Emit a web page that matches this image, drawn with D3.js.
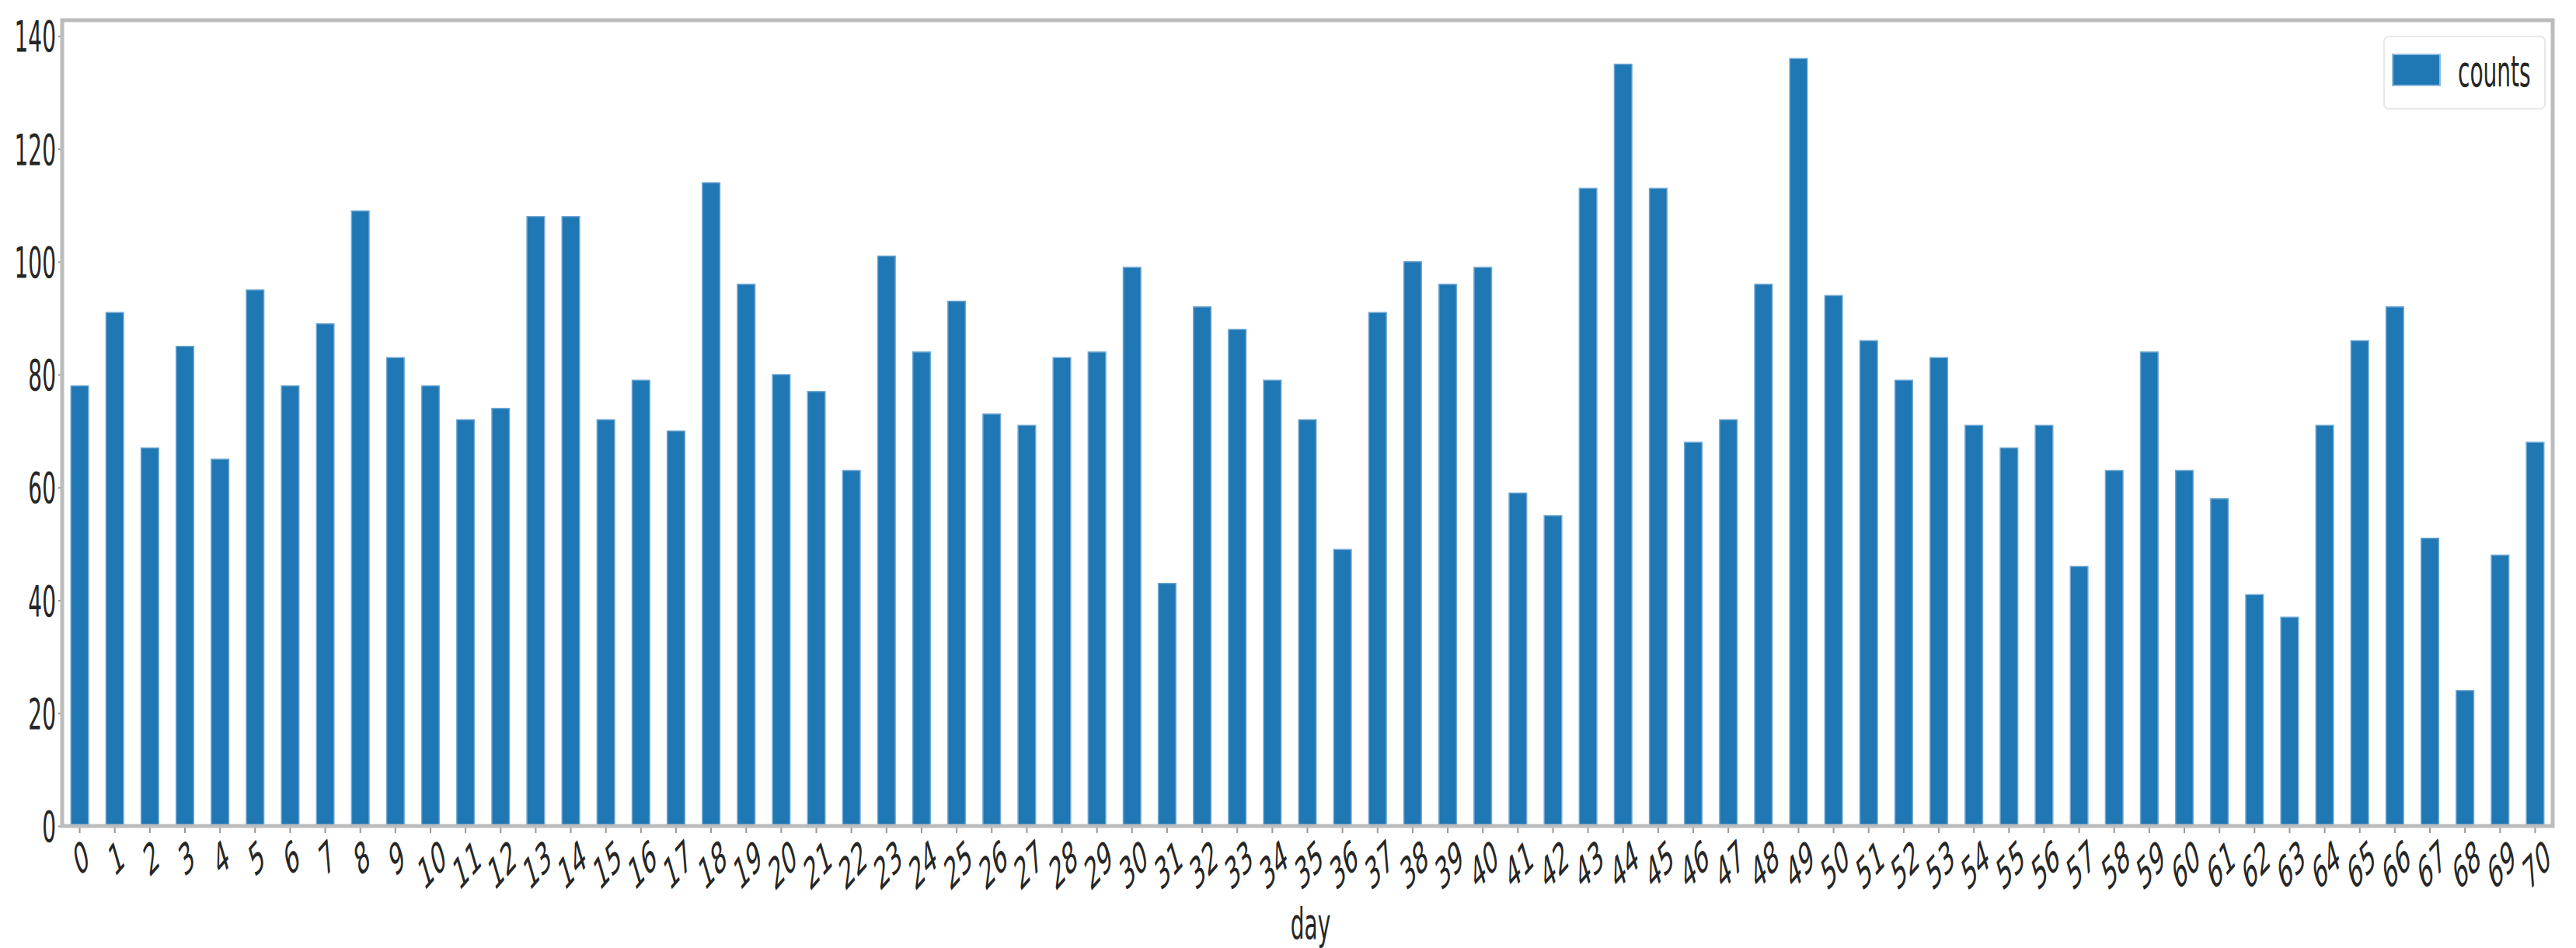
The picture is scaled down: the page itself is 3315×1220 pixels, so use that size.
<!DOCTYPE html>
<html>
<head>
<meta charset="utf-8">
<script src="https://cdn.jsdelivr.net/npm/d3@7"></script>
<style>
  body { margin: 0; background: #fff; }
  svg text { font-family: "DejaVu Sans", sans-serif; fill: #262626; }
</style>
</head>
<body>
<div id="chart"></div>
<script>
// data
const days = d3.range(0, 71).map(String)
const counts = [78, 91, 67, 85, 65, 95, 78, 89, 109, 83,
  78, 72, 74, 108, 108, 72, 79, 70, 114, 96,
  80, 77, 63, 101, 84, 93, 73, 71, 83, 84,
  99, 43, 92, 88, 79, 72, 49, 91, 100, 96,
  99, 59, 55, 113, 135, 113, 68, 72, 96, 136,
  94, 86, 79, 83, 71, 67, 71, 46, 63, 84,
  63, 58, 41, 37, 71, 86, 92, 51, 24, 48, 68]
const yTicks = [0, 20, 40, 60, 80, 100, 120, 140]
const seriesName = 'counts'
const xLabel = 'day'

const width = 3315, height = 1220
const padLeft = 80, padRight = 3285, padTop = 26, padBottom = 1063
const fs = 56, sx = 0.5   // the picture is squeezed sideways, so text is too

const svg = d3.select('#chart').append('svg')
    .attr('width', width)
    .attr('height', height)

const x = d3.scaleBand()
    .domain(days)
    .range([padLeft, padRight])
    .paddingInner(0.5)
    .paddingOuter(0.25)

const y = d3.scaleLinear()
    .domain([0, d3.max(counts) * 1.05])
    .range([padBottom, padTop])

// bars
svg.append('g')
    .selectAll('rect')
    .data(counts)
    .enter()
    .append('rect')
    .attr('x', (d, i) => x(days[i]))
    .attr('y', d => y(d))
    .attr('width', x.bandwidth())
    .attr('height', d => y(0) - y(d))
    .attr('fill', '#1f77b4')
    .attr('stroke', '#6fa6d3')
    .attr('stroke-width', 1.5)

// y axis
const yAxis = svg.append('g')
    .attr('transform', 'translate(' + padLeft + ',0)')
    .call(d3.axisLeft(y).tickValues(yTicks).tickSize(5).tickFormat(d3.format('d')))
yAxis.select('.domain').remove()
yAxis.selectAll('line').attr('stroke', '#999').attr('stroke-width', 2)
yAxis.selectAll('text').remove()
yAxis.selectAll('.tick').append('text')
    .attr('transform', 'translate(-8,0) scale(' + sx + ',1)')
    .attr('text-anchor', 'end')
    .attr('dominant-baseline', 'central')
    .style('font-size', fs + 'px')
    .text(d => d)

// x axis
const xAxis = svg.append('g')
    .attr('transform', 'translate(0,' + padBottom + ')')
    .call(d3.axisBottom(x).tickSize(9))
xAxis.select('.domain').remove()
xAxis.selectAll('line').attr('stroke', '#999').attr('stroke-width', 2)
xAxis.selectAll('text').remove()
const ang = 30 * Math.PI / 180
xAxis.selectAll('.tick').append('text')
    .style('font-size', fs + 'px')
    .attr('text-anchor', 'middle')
    .attr('dominant-baseline', 'central')
    .text(d => d)
    .attr('transform', function () {
        const w = this.getComputedTextLength()
        const h = fs * 0.75
        const hh = w * Math.sin(ang) + h * Math.cos(ang)
        return 'translate(2,' + (14 + hh / 2) + ') scale(' + sx + ',1) rotate(-30)'
    })

// frame
svg.append('rect')
    .attr('x', padLeft)
    .attr('y', padTop)
    .attr('width', padRight - padLeft)
    .attr('height', padBottom - padTop)
    .attr('fill', 'none')
    .attr('stroke', '#bcbcbc')
    .attr('stroke-width', 5)

// x label
svg.append('text')
    .attr('transform', 'translate(' + ((padLeft + padRight) / 2 + 4) + ',1188) scale(' + sx + ',1)')
    .attr('text-anchor', 'middle')
    .attr('dominant-baseline', 'central')
    .style('font-size', fs + 'px')
    .text(xLabel)

// legend
const lg = svg.append('g').attr('transform', 'translate(3068,47)')
lg.append('rect')
    .attr('width', 207)
    .attr('height', 93)
    .attr('rx', 6)
    .attr('fill', '#fff')
    .attr('stroke', '#e8e8e8')
    .attr('stroke-width', 2)
lg.append('rect')
    .attr('x', 11)
    .attr('y', 23)
    .attr('width', 61)
    .attr('height', 40)
    .attr('fill', '#1f77b4')
    .attr('stroke', '#8fbbe0')
    .attr('stroke-width', 2)
lg.append('text')
    .attr('transform', 'translate(95,44) scale(' + sx + ',1)')
    .attr('dominant-baseline', 'central')
    .style('font-size', fs + 'px')
    .text(seriesName)
</script>
</body>
</html>
